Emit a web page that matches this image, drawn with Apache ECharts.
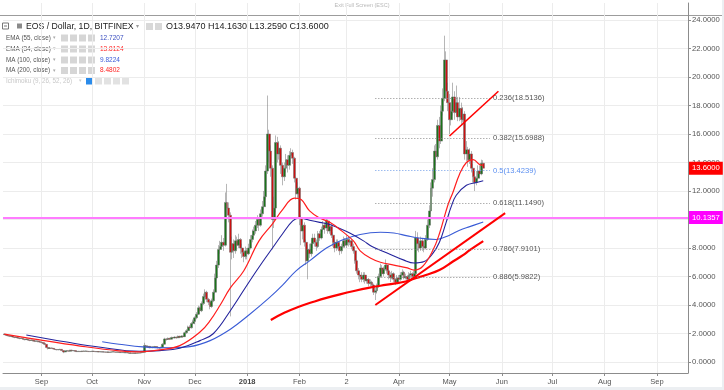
<!DOCTYPE html>
<html><head><meta charset="utf-8">
<script src="https://cdn.jsdelivr.net/npm/echarts@6/dist/echarts.min.js"></script>
<style>html,body{margin:0;padding:0;background:#fff}#c{width:724px;height:390px}</style>
</head><body><div id="c"></div>
<script>
// ---------- data ----------
const startDate = '2017-08-10';
const firstOpen = 1.96;
const closeVals = [
 1.92,1.88,1.85,1.80,1.83,1.76,1.72,1.74,1.68,1.65,1.67,1.60,1.57,1.61,1.55,1.51,1.55,1.49,1.45,1.48,1.43,1.40,
 1.36,1.30,1.24,1.02,0.95,0.99,0.96,0.91,0.88,0.86,0.87,0.89,0.80,0.70,0.77,0.79,0.76,0.83,0.79,0.80,0.75,0.73,0.75,0.73,0.77,0.75,0.77,0.75,0.73,0.74,
 0.76,0.74,0.72,0.73,0.71,0.72,0.70,0.71,0.69,0.70,0.68,0.70,0.72,0.71,0.69,0.70,0.68,0.66,0.67,0.65,0.66,0.64,0.62,0.63,0.61,0.63,0.62,0.64,0.63,0.66,0.68,
 1.15,1.05,1.10,1.00,1.06,1.02,1.08,1.04,1.00,0.98,1.03,1.25,1.62,1.58,1.66,1.60,1.72,1.68,1.75,1.70,1.80,1.74,1.82,1.78,2.05,2.20,2.45,2.40,2.70,2.85,
 3.10,3.35,3.80,3.60,4.10,4.60,4.90,4.40,4.20,3.90,4.30,4.90,5.90,6.80,7.90,8.10,8.40,8.20,11.20,10.80,10.30,7.70,8.30,7.80,8.50,8.20,8.60,8.00,7.70,7.40,7.80,
 7.60,8.00,8.60,8.90,9.20,9.60,10.00,9.60,10.40,10.90,11.60,13.40,16.00,14.80,13.60,10.00,10.80,15.40,14.60,15.00,13.80,13.00,13.60,14.20,13.80,14.50,14.70,14.30,12.90,11.80,12.20,
 10.10,9.20,9.60,8.40,7.10,7.90,7.60,8.30,8.70,8.40,8.10,9.00,8.70,9.30,9.60,9.40,9.90,9.20,9.50,8.90,8.40,8.00,8.40,8.10,7.80,8.10,8.50,8.20,
 8.60,8.40,8.50,8.10,7.80,7.10,6.40,6.10,6.00,5.80,6.10,5.70,5.80,5.50,5.60,5.40,4.90,5.00,5.30,6.00,6.60,6.20,6.50,6.80,6.40,6.10,5.90,6.20,5.80,5.60,5.90,
 5.80,6.10,6.30,5.90,6.00,5.80,6.10,6.20,6.00,6.20,8.70,8.30,8.00,8.50,8.10,8.00,8.60,9.60,10.60,12.20,12.80,14.80,14.40,16.60,15.50,17.60,18.50,21.20,19.00,18.20,
 17.00,17.60,18.60,17.50,18.20,17.20,17.80,17.00,17.40,14.60,14.90,14.20,14.60,13.60,13.00,12.60,12.90,13.40,13.20,13.947,13.60
];
const highVals = [
 1.99,1.95,1.92,1.88,1.88,1.85,1.78,1.79,1.76,1.71,1.72,1.69,1.63,1.65,1.63,1.58,1.59,1.57,1.52,1.52,1.50,1.46,
 1.44,1.38,1.33,1.26,1.06,1.03,1.01,0.98,0.93,0.90,0.91,0.93,0.91,0.82,0.80,0.82,0.81,0.86,0.85,0.83,0.82,0.77,0.78,0.77,0.79,0.79,0.80,0.78,0.77,0.77,
 0.78,0.77,0.75,0.75,0.74,0.74,0.73,0.73,0.72,0.72,0.71,0.72,0.75,0.74,0.72,0.72,0.71,0.69,0.69,0.68,0.68,0.67,0.65,0.65,0.64,0.65,0.65,0.66,0.66,0.68,0.71,
 1.35,1.20,1.18,1.12,1.12,1.10,1.13,1.10,1.07,1.05,1.08,1.32,1.70,1.68,1.72,1.70,1.78,1.76,1.80,1.78,1.86,1.84,1.88,1.86,2.12,2.30,2.55,2.58,2.80,2.98,
 3.20,3.50,3.95,3.90,4.25,4.80,5.10,5.00,4.50,4.30,4.45,5.10,6.20,7.10,8.20,8.50,8.90,8.70,11.90,12.50,11.20,10.50,8.80,8.60,8.90,8.80,9.00,8.70,8.30,7.90,8.10,
 8.00,8.30,8.90,9.30,9.50,9.90,10.30,10.10,10.70,11.30,12.00,13.80,18.70,16.30,15.20,13.80,11.60,15.90,15.80,15.50,15.20,14.00,14.00,14.60,14.50,14.80,15.00,14.90,14.40,13.00,12.60,
 12.30,10.30,10.00,9.80,8.60,8.20,8.30,8.60,9.00,9.00,8.60,9.20,9.20,9.50,9.90,9.80,10.10,10.00,9.70,9.70,9.10,8.60,8.60,8.60,8.30,8.30,8.80,8.70,
 8.90,8.80,8.70,8.60,8.30,7.90,7.20,6.60,6.40,6.30,6.30,6.30,6.00,5.90,5.80,5.70,5.50,5.20,5.50,6.20,6.90,6.80,6.70,7.20,6.90,6.50,6.30,6.40,6.30,5.90,6.10,
 6.10,6.30,6.50,6.40,6.20,6.10,6.30,6.40,6.30,6.40,9.20,9.10,8.70,8.80,8.70,8.40,8.90,10.00,11.00,12.60,13.60,15.20,15.30,17.00,17.20,18.00,19.20,22.90,21.80,19.60,
 18.80,18.20,19.60,19.00,19.40,18.60,18.60,18.20,17.90,17.60,15.50,15.10,15.00,14.80,13.90,13.40,13.40,13.80,13.80,14.20,14.163
];
const lowVals = [
 1.88,1.84,1.80,1.75,1.77,1.72,1.67,1.69,1.64,1.60,1.61,1.56,1.52,1.55,1.50,1.46,1.49,1.44,1.40,1.42,1.38,1.35,
 1.32,1.26,1.18,0.96,0.88,0.92,0.92,0.87,0.84,0.82,0.83,0.85,0.77,0.62,0.68,0.75,0.73,0.74,0.76,0.76,0.72,0.70,0.71,0.70,0.71,0.72,0.73,0.72,0.70,0.71,
 0.72,0.72,0.70,0.70,0.69,0.69,0.68,0.68,0.67,0.67,0.66,0.67,0.68,0.68,0.67,0.67,0.66,0.64,0.64,0.63,0.63,0.62,0.59,0.60,0.58,0.60,0.60,0.61,0.61,0.62,0.65,
 0.66,0.98,1.00,0.96,0.98,0.97,1.00,0.99,0.95,0.93,0.96,1.01,1.22,1.50,1.55,1.54,1.58,1.62,1.65,1.64,1.68,1.68,1.72,1.72,1.76,1.98,2.15,2.25,2.35,2.60,
 2.65,3.00,3.30,3.40,3.50,4.00,4.50,4.20,4.00,3.70,3.80,4.20,4.80,5.80,6.60,7.60,7.90,7.80,8.10,10.20,9.80,3.20,7.20,7.30,7.60,7.90,8.00,7.60,7.30,7.00,7.20,
 7.20,7.50,7.90,8.40,8.70,9.00,9.40,9.20,9.50,10.20,10.70,11.40,13.20,14.00,13.00,7.90,9.40,10.50,14.00,14.20,13.20,12.40,12.70,13.30,13.30,13.50,14.00,13.90,12.60,11.40,11.50,
 9.60,8.20,8.60,8.10,6.80,5.80,7.30,7.40,8.00,8.10,7.80,8.00,8.50,8.60,9.10,9.00,9.20,9.00,9.00,8.70,8.10,7.70,7.80,7.90,7.50,7.60,8.00,8.00,
 8.00,8.10,8.20,7.90,7.60,6.90,6.20,5.80,5.60,5.60,5.60,5.50,5.50,5.30,5.30,5.20,4.70,4.35,4.80,5.20,5.90,6.00,6.00,6.40,6.20,5.80,5.60,5.80,5.60,5.40,5.50,
 5.60,5.70,6.00,5.80,5.80,5.60,5.70,5.90,5.80,5.90,6.10,7.80,7.70,7.80,7.80,7.70,7.90,8.50,9.40,10.40,11.60,12.60,13.80,14.20,15.00,15.30,17.30,18.30,18.50,17.60,
 16.00,16.60,17.30,17.00,17.30,16.90,16.90,16.60,16.80,14.20,14.10,13.70,13.90,13.30,12.60,12.00,12.40,12.80,12.90,13.10,13.259
];
const ema34 = [['2017-08-10',1.96],['2017-08-31',1.55],['2017-09-24',1.12],['2017-10-17',0.78],['2017-10-29',0.71],['2017-11-10',0.85],['2017-11-22',1.15],['2017-12-04',2.1],['2017-12-10',2.9],['2017-12-16',4.0],['2017-12-22',5.2],['2017-12-30',6.4],['2018-01-08',8.5],['2018-01-16',9.7],['2018-01-22',10.7],['2018-01-29',11.5],['2018-02-02',11.4],['2018-02-07',10.6],['2018-02-13',10.1],['2018-02-19',9.8],['2018-02-26',9.2],['2018-03-05',8.5],['2018-03-09',7.8],['2018-03-15',7.3],['2018-03-21',7.0],['2018-03-29',6.8],['2018-04-06',6.6],['2018-04-10',6.45],['2018-04-15',6.7],['2018-04-21',7.8],['2018-04-25',9.0],['2018-04-30',11.0],['2018-05-03',11.9],['2018-05-07',13.2],['2018-05-11',14.0],['2018-05-15',14.2],['2018-05-19',13.85],['2018-05-21',13.81]];
const ema55 = [['2017-08-23',1.9],['2017-09-16',1.4],['2017-10-05',1.05],['2017-10-29',0.75],['2017-11-10',0.8],['2017-11-22',0.97],['2017-12-04',1.5],['2017-12-12',2.0],['2017-12-22',3.6],['2018-01-02',5.6],['2018-01-10',7.0],['2018-01-16',8.0],['2018-01-22',9.0],['2018-01-28',9.9],['2018-02-01',10.1],['2018-02-07',9.95],['2018-02-13',9.8],['2018-02-19',9.65],['2018-03-01',9.15],['2018-03-11',8.5],['2018-03-16',8.1],['2018-03-25',7.65],['2018-04-04',7.15],['2018-04-10',6.95],['2018-04-16',7.05],['2018-04-21',7.6],['2018-04-25',8.4],['2018-04-29',9.8],['2018-05-02',10.9],['2018-05-05',11.7],['2018-05-11',12.4],['2018-05-17',12.6],['2018-05-21',12.72]];
const ma100 = [['2017-10-07',1.42],['2017-10-17',1.25],['2017-10-31',1.06],['2017-11-16',1.0],['2017-11-28',1.08],['2017-12-10',1.5],['2017-12-22',2.3],['2018-01-02',3.3],['2018-01-14',4.5],['2018-01-22',5.4],['2018-01-30',6.4],['2018-02-07',7.1],['2018-02-17',8.0],['2018-02-26',8.55],['2018-03-09',8.95],['2018-03-21',9.1],['2018-03-29',9.05],['2018-04-06',8.85],['2018-04-13',8.7],['2018-04-23',8.6],['2018-05-01',8.9],['2018-05-07',9.25],['2018-05-13',9.5],['2018-05-21',9.82]];
const ma200 = [['2018-01-15',2.95],['2018-01-23',3.45],['2018-02-01',3.9],['2018-02-10',4.25],['2018-02-17',4.5],['2018-02-25',4.75],['2018-03-06',5.0],['2018-03-14',5.2],['2018-03-21',5.35],['2018-03-29',5.5],['2018-04-05',5.65],['2018-04-10',5.85],['2018-04-17',6.1],['2018-04-25',6.45],['2018-05-03',7.05],['2018-05-09',7.5],['2018-05-13',7.85],['2018-05-21',8.48]];
const trendSupport = [['2018-03-18',4.0],['2018-06-03',10.45]];
const trendWedge = [['2018-05-01',15.86],['2018-05-30',19.0]];
const fibLevels = [0.236,0.382,0.5,0.618,0.786,0.886];
const fibPrices = [18.5136,15.6988,13.4239,11.1490,7.9101,5.9822];
const fibSpan = ['2018-03-18','2018-05-25'];
const lastPrice = 13.6;
const alertPrice = 10.1357;
const lastOHLC = [13.9470,14.1630,13.2590,13.6000];
const indicatorNames = ['EMA (55, close)','EMA (34, close)','MA (100, close)','MA (200, close)'];
const indicatorValues = [12.7207,13.8124,9.8224,8.4802];
const monthTicks = ['2017-09-01','2017-10-01','2017-11-01','2017-12-01','2018-01-01','2018-02-01','2018-03-01','2018-04-01','2018-05-01','2018-06-01','2018-07-01','2018-08-01','2018-09-01'];
const monthLabels = ['Sep','Oct','Nov','Dec','2018','Feb','2','Apr','May','Jun','Jul','Aug','Sep'];
const priceTicks = [0,2,4,6,8,10,12,14,16,18,20,22,24];

// ---------- build ----------
const EPOCH = Date.UTC(2017, 8, 1);
function dayOf(s){ const p = s.split('-').map(Number); return (Date.UTC(p[0], p[1]-1, p[2]) - EPOCH) / 864e5; }
const start = dayOf(startDate);
const candles = closeVals.map((c, i) => {
  const o = i === 0 ? firstOpen : closeVals[i-1];
  const h = Math.max(highVals[i], o, c), l = Math.min(lowVals[i], o, c);
  return [start + i, o, c, l, h];
});
const pts = arr => arr.map(p => [dayOf(p[0]), p[1]]);
const monthDays = monthTicks.map(dayOf);
const FONT = 'Liberation Sans, Arial, sans-serif';

const fibLines = fibLevels.map((lv, k) => {
  const isHalf = lv === 0.5;
  const col = isHalf ? '#6d9be8' : '#8a8a8a';
  return [
    {coord: [dayOf(fibSpan[0]), fibPrices[k]],
     lineStyle: {color: col, width: 1, type: [1, 2]},
     label: {show: true, position: 'end', distance: 3, padding: [9, 0, 0, 0],
       formatter: lv + '(' + fibPrices[k].toFixed(4) + ')',
       color: isHalf ? '#5b8ff0' : '#555', fontSize: 7.6, fontFamily: FONT}},
    {coord: [dayOf(fibSpan[1]), fibPrices[k]]}
  ];
});

function txt(x, y, t, size, fill, align){ return {type:'text', x:x, y:y, silent:true,
  style: {text: t, fontSize: size, fontFamily: FONT, fill: fill, verticalAlign: 'middle', align: align || 'left'}}; }
function box(x, y, w, h, fill, stroke){ return {type:'rect', silent:true, shape:{x:x, y:y, width:w, height:h},
  style: {fill: fill, stroke: stroke || null, lineWidth: stroke ? 1 : 0}}; }

const graphics = [
  box(722, 0, 2, 390, '#eceff2'),
  box(0, 387, 724, 3, '#eceff2'),
  {type:'line', silent:true, shape:{x1:0, y1:15.5, x2:722, y2:15.5}, style:{stroke:'#9c9c9c', lineWidth:1}},
  txt(362, 5, 'Exit Full Screen (ESC)', 5.5, '#b8b8b8', 'center'),
  box(2.5, 23, 6, 6, '#fff', '#777'),
  {type:'line', silent:true, shape:{x1:4, y1:26, x2:7, y2:26}, style:{stroke:'#777', lineWidth:1}},
  box(17, 23.5, 5, 5, '#8a8a8a'),
  txt(26, 26.5, 'EOS / Dollar, 1D, BITFINEX', 8.7, '#222'),
  txt(136, 26.5, '▾', 6, '#999'),
  box(146, 23, 7, 7, '#d8d8d8'), box(155, 23, 7, 7, '#d8d8d8'),
  txt(166, 26.5, 'O' + lastOHLC[0].toFixed(4) + ' H' + lastOHLC[1].toFixed(4) + ' L' + lastOHLC[2].toFixed(4) + ' C' + lastOHLC[3].toFixed(4), 9, '#222')
];
const rowY = [38, 49, 60, 70.5];
const valColors = ['#3b4fc0', '#ff2222', '#3b5bd8', '#ff2222'];
indicatorNames.forEach((n, k) => {
  const y = rowY[k];
  graphics.push(txt(6, y, n, 6.3, '#555'));
  graphics.push(txt(53, y, '▾', 5, '#aaa'));
  [61, 70, 79, 88].forEach(x => graphics.push(box(x, y - 3.5, 7, 7, '#d6d6d6')));
  graphics.push(txt(100, y, indicatorValues[k].toFixed(4), 6.5, valColors[k]));
});
graphics.push(txt(6, 81, 'Ichimoku (9, 26, 52, 26)', 6.3, '#c8c8c8'));
graphics.push(txt(79, 81, '▾', 5, '#ccc'));
graphics.push(box(86, 77.5, 7, 7, '#2a8bea'));
[95, 104, 113, 122].forEach(x => graphics.push(box(x, 77.5, 7, 7, '#e2e2e2')));

const chart = echarts.init(document.getElementById('c'), null, {renderer: 'canvas'});
chart.setOption({
  animation: false,
  backgroundColor: '#ffffff',
  grid: {left: 3, right: 36, top: 3, bottom: 17},
  xAxis: {
    type: 'value', min: -22.835, max: 383.45,
    axisLine: {show: true, onZero: false, lineStyle: {color: '#8c8c8c'}},
    axisTick: {show: true, length: 3, customValues: monthDays, lineStyle: {color: '#8c8c8c'}},
    axisLabel: {customValues: monthDays, margin: 5, color: '#555', fontSize: 7.5, fontFamily: FONT,
      formatter: v => { const i = monthDays.indexOf(v); const s = i >= 0 ? monthLabels[i] : ''; return s === '2018' ? '{b|' + s + '}' : s; },
      rich: {b: {fontWeight: 'bold', fontSize: 7.5, color: '#444', fontFamily: FONT}}},
    splitLine: {show: true, lineStyle: {color: '#ececec', width: 1}}
  },
  yAxis: {
    type: 'value', position: 'right', min: -0.772, max: 25.193,
    axisLine: {show: true, onZero: false, lineStyle: {color: '#8c8c8c'}},
    axisTick: {show: true, length: 3, customValues: priceTicks, lineStyle: {color: '#8c8c8c'}},
    axisLabel: {customValues: priceTicks, margin: 4, color: '#555', fontSize: 7.7, fontFamily: FONT,
      formatter: v => Number(v).toFixed(4)},
    splitLine: {show: true, lineStyle: {color: '#ececec', width: 1}}
  },
  series: [
    {type: 'candlestick', data: candles, barWidth: 2.4, z: 2,
     itemStyle: {color: '#1a741a', color0: '#cc1010', borderColor: '#6e6e6e', borderColor0: '#6e6e6e', borderWidth: 0.5},
     markLine: {symbol: 'none', silent: true, animation: false,
       data: [
         {yAxis: alertPrice, lineStyle: {color: '#ff7cff', width: 2, type: 'solid'},
          label: {show: true, position: 'end', distance: 1, formatter: alertPrice.toFixed(4), color: '#fff',
            backgroundColor: '#ff00ff', padding: [3, 3, 2, 3], fontSize: 7.7, fontFamily: FONT}},
         {yAxis: lastPrice, lineStyle: {color: 'rgba(255,0,0,0)', width: 0},
          label: {show: true, position: 'end', distance: 1, formatter: lastPrice.toFixed(4), color: '#fff',
            backgroundColor: '#ff0000', padding: [3, 3, 2, 3], fontSize: 7.7, fontFamily: FONT}}
       ].concat(fibLines)}},
    {type: 'line', data: pts(ma100), smooth: 0.4, symbol: 'none', z: 3, lineStyle: {color: '#3a5cd6', width: 1.1}},
    {type: 'line', data: pts(ema55), smooth: 0.4, symbol: 'none', z: 3, lineStyle: {color: '#23239c', width: 1.1}},
    {type: 'line', data: pts(ema34), smooth: 0.4, symbol: 'none', z: 4, lineStyle: {color: '#ff1e1e', width: 1.2}},
    {type: 'line', data: pts(ma200), smooth: 0.4, symbol: 'none', z: 4, lineStyle: {color: '#ff0000', width: 2.2}},
    {type: 'line', data: pts(trendSupport), symbol: 'none', z: 5, lineStyle: {color: '#ff0000', width: 2}},
    {type: 'line', data: pts(trendWedge), symbol: 'none', z: 5, lineStyle: {color: '#ff0000', width: 1.6}}
  ],
  graphic: graphics
});
</script>
</body></html>
